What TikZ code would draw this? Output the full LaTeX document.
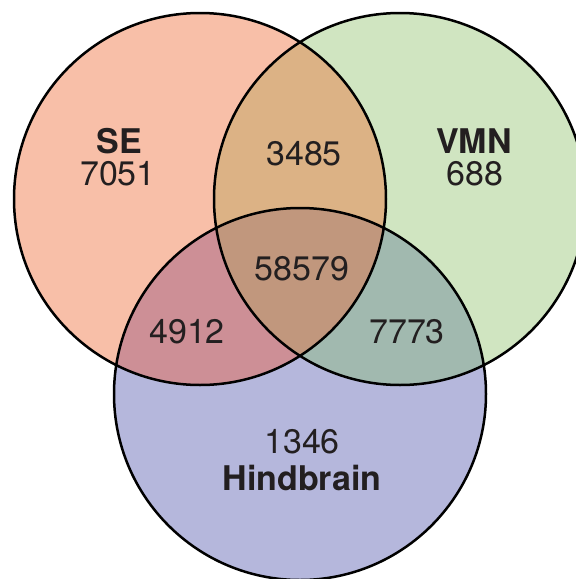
\documentclass[tikz,border=0pt]{standalone}
\usepackage{fontspec}
\setmainfont{TeX Gyre Heros}
\definecolor{cse}{RGB}{248,191,168}
\definecolor{cvmn}{RGB}{208,229,193}
\definecolor{chb}{RGB}{181,183,220}
\definecolor{csv}{RGB}{220,178,133}
\definecolor{csh}{RGB}{205,143,150}
\definecolor{cvh}{RGB}{161,185,175}
\definecolor{call}{RGB}{193,151,125}
\definecolor{txt}{RGB}{35,31,32}
\tikzset{
  ring/.style={circle, draw=black, line width=2.5pt, minimum size=372pt, inner sep=0pt},
  lbl/.style={text=txt, font=\fontsize{34}{34}\selectfont, anchor=base, inner sep=0pt},
  blbl/.style={lbl, font=\fontsize{34}{34}\selectfont\bfseries}
}
\begin{document}
\begin{tikzpicture}[x=1pt,y=-1pt]
\useasboundingbox (0,0) rectangle (576,579);
\clip (0,0) rectangle (576,579);
\coordinate (cs) at (200,199);
\coordinate (cv) at (400,199);
\coordinate (ch) at (300,394);
\fill[cse] (cs) circle[radius=186pt];
\fill[cvmn] (cv) circle[radius=186pt];
\fill[chb] (ch) circle[radius=186pt];
\begin{scope}\clip (cs) circle[radius=186pt]; \fill[csv] (cv) circle[radius=186pt];\end{scope}
\begin{scope}\clip (cs) circle[radius=186pt]; \fill[csh] (ch) circle[radius=186pt];\end{scope}
\begin{scope}\clip (cv) circle[radius=186pt]; \fill[cvh] (ch) circle[radius=186pt];\end{scope}
\begin{scope}\clip (cs) circle[radius=186pt]; \clip (cv) circle[radius=186pt]; \fill[call] (ch) circle[radius=186pt];\end{scope}
\node[ring] (SE) at (cs) {};
\node[ring] (VMN) at (cv) {};
\node[ring] (HB) at (ch) {};
\node[blbl] (seName) at (119,153) {SE};
\node[lbl] (seNum) at (118,185) {7051};
\node[blbl] (vmnName) at (474,153) {VMN};
\node[lbl] (vmnNum) at (475,185) {688};
\node[lbl] (sv) at (304,165) {3485};
\node[lbl] (all) at (302,280) {58579};
\node[lbl] (sh) at (187,343) {4912};
\node[lbl] (vh) at (407,343) {7773};
\node[lbl] (hbNum) at (302,453) {1346};
\node[blbl] (hbName) at (302,490) {Hindbrain};
\end{tikzpicture}
\end{document}
